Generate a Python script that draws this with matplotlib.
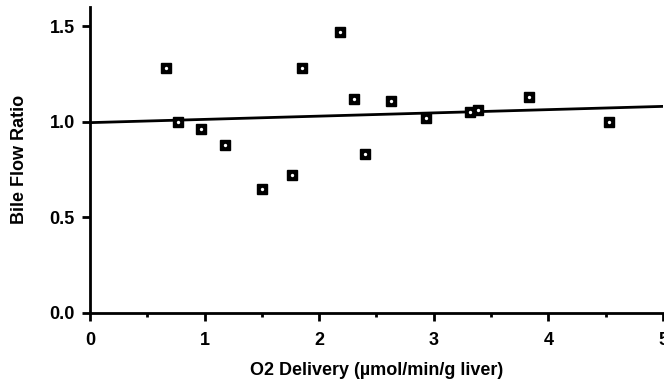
import numpy as np
import matplotlib.pyplot as plt
from matplotlib.ticker import MultipleLocator

# O2 delivery (umol/min/g liver) vs bile flow ratio
o2_delivery = [0.66, 0.77, 0.97, 1.18, 1.50, 1.76, 1.85, 2.18, 2.30, 2.40,
               2.63, 2.93, 3.32, 3.39, 3.83, 4.53]
bile_ratio = [1.28, 1.00, 0.96, 0.88, 0.65, 0.72, 1.28, 1.47, 1.12, 0.83,
              1.11, 1.02, 1.05, 1.06, 1.13, 1.00]

# regression line as drawn in the figure
fit_intercept = 0.995
fit_slope = 0.017

plt.rcParams["font.family"] = ["Liberation Sans", "DejaVu Sans"]
plt.rcParams["font.weight"] = "bold"

fig = plt.figure(figsize=(6.64, 3.84), dpi=100)
ax = fig.add_axes([0.1355, 0.185, 0.863, 0.797])

xs = np.array([0, 5])
ax.plot(xs, fit_intercept + fit_slope * xs, color="black", lw=2, zorder=2)

ax.plot(o2_delivery, bile_ratio, ls="none", marker="s", ms=7,
        mfc="black", mec="black", mew=1, zorder=3)
ax.plot(o2_delivery, bile_ratio, ls="none", marker="o", ms=2.4,
        mfc="white", mec="white", mew=0, zorder=4)

ax.set_xlim(0, 5)
ax.set_ylim(0, 1.6)
ax.set_xticks([0, 1, 2, 3, 4, 5])
ax.xaxis.set_minor_locator(MultipleLocator(0.5))
ax.set_yticks([0.0, 0.5, 1.0, 1.5])
ax.set_yticklabels(["0.0", "0.5", "1.0", "1.5"])

for side in ["top", "right"]:
    ax.spines[side].set_visible(False)
for side in ["left", "bottom"]:
    ax.spines[side].set_linewidth(2)

ax.tick_params(axis="both", which="major", direction="out", length=6,
               width=2, labelsize=13, pad=5)
ax.tick_params(axis="x", which="minor", direction="out", length=3, width=2)
ax.tick_params(axis="x", which="major", pad=8)

ax.set_xlabel("O2 Delivery (\u00b5mol/min/g liver)", fontsize=13,
              fontweight="bold", labelpad=9)
ax.set_ylabel("Bile Flow Ratio", fontsize=13, fontweight="bold", labelpad=15)
for lab in ax.get_xticklabels() + ax.get_yticklabels():
    lab.set_fontweight("bold")

fig.savefig("out.png", dpi=100)
